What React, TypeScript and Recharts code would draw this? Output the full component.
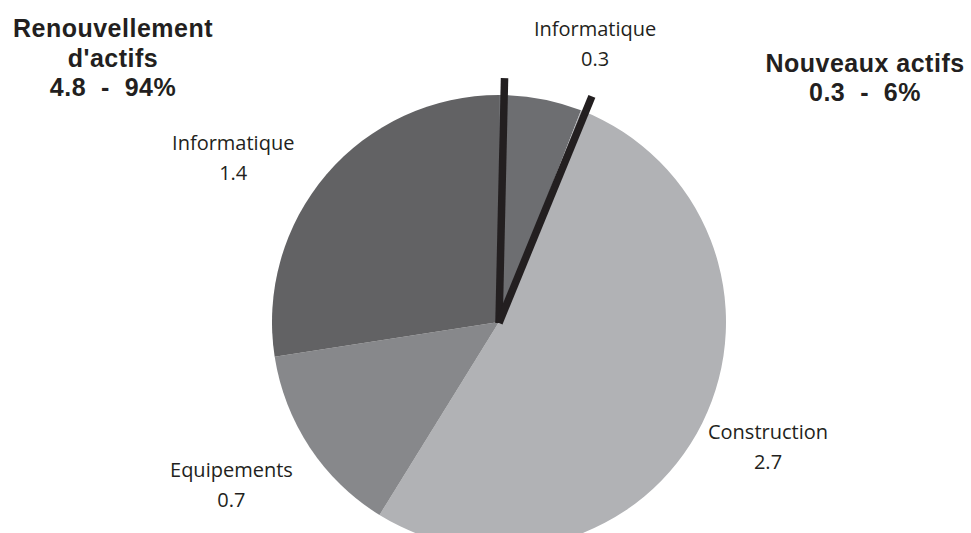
import React from 'react';
import { PieChart, Pie, Cell } from 'recharts';

const categories = ['Informatique', 'Construction', 'Equipements', 'Informatique'];
const values = [0.3, 2.7, 0.7, 1.4];
const groupTitles = ["Renouvellement|d'actifs|4.8  -  94%", 'Nouveaux actifs|0.3  -  6%'];

const COLORS = ['#6d6e71', '#b1b2b5', '#87888b', '#626264'];
const LABEL_NUDGE = [
  { dx: 47, dy: -24 },
  { dx: 30, dy: -2 },
  { dx: -45, dy: 8 },
  { dx: -63, dy: 2 },
];

const data = categories.map((name, i) => ({ name, value: values[i] }));

const RAD = Math.PI / 180;
const polar = (cx: number, cy: number, r: number, a: number) => ({
  x: cx + r * Math.cos(-a * RAD),
  y: cy + r * Math.sin(-a * RAD),
});

const renderLabel = (props: any) => {
  const { cx, cy, midAngle, outerRadius, index, name, value, startAngle, endAngle } = props;
  const p = polar(cx, cy, outerRadius + 40, midAngle);
  const n = LABEL_NUDGE[index] || { dx: 0, dy: 0 };
  const x = p.x + n.dx;
  const y = p.y + n.dy;
  const lines: React.ReactNode[] = [];
  if (index === 0) {
    const a1 = polar(cx, cy, outerRadius + 17, startAngle - 1.3);
    const a2 = polar(cx, cy, outerRadius + 17, endAngle - 1.2);
    lines.push(
      <line key="l1" x1={cx} y1={cy + 1} x2={a1.x} y2={a1.y} stroke="#231f20" strokeWidth={7.5} />,
      <line key="l2" x1={cx} y1={cy + 1} x2={a2.x} y2={a2.y} stroke="#231f20" strokeWidth={7.5} />
    );
  }
  return (
    <g>
      {lines}
      <text
        x={x}
        y={y}
        textAnchor="middle"
        fill="#231f20"
        fontFamily="'Open Sans', sans-serif"
        fontSize={20}
      >
        <tspan x={x} y={y}>{name}</tspan>
        <tspan x={x} y={y + 30}>{String(value)}</tspan>
      </text>
    </g>
  );
};

const titlePos = [
  { x: 113, y: 37, gap: 29.5 },
  { x: 865, y: 71.5, gap: 29.5 },
];

export default function App() {
  return (
    <div style={{ position: 'absolute', left: 0, top: 0, width: 971, height: 533, background: '#fff' }}>
      <PieChart width={971} height={533} margin={{ top: 0, right: 0, bottom: 0, left: 0 }}>
        <Pie
          data={data}
          dataKey="value"
          nameKey="name"
          cx={499}
          cy={322}
          outerRadius={227}
          startAngle={90}
          endAngle={-270}
          stroke="none"
          isAnimationActive={false}
          labelLine={false}
          label={renderLabel}
        >
          {data.map((d, i) => (
            <Cell key={i} fill={COLORS[i]} />
          ))}
        </Pie>
      </PieChart>
      <svg width={971} height={533} style={{ position: 'absolute', left: 0, top: 0, pointerEvents: 'none' }}>
        {groupTitles.map((t, i) => (
          <text
            key={i}
            textAnchor="middle"
            fill="#231f20"
            fontFamily="'Liberation Sans', Arial, sans-serif"
            fontWeight="bold"
            fontSize={25}
            letterSpacing={0.5}
            style={{ whiteSpace: 'pre' }}
          >
            {t.split('|').map((line, j) => (
              <tspan key={j} x={titlePos[i].x} y={titlePos[i].y + j * titlePos[i].gap}>
                {line}
              </tspan>
            ))}
          </text>
        ))}
      </svg>
    </div>
  );
}
